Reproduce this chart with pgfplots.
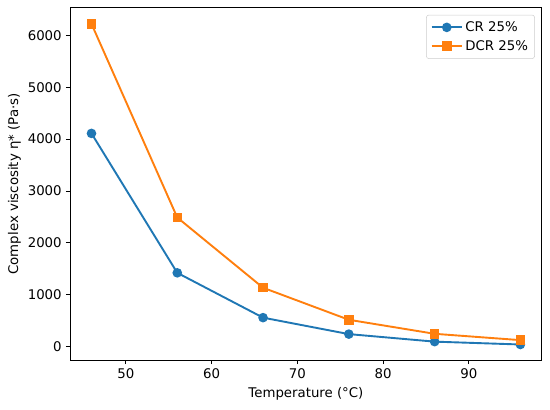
\documentclass[border=0pt]{standalone}
\usepackage{fontspec}
\setmainfont{DejaVu Sans}
\usepackage{pgfplots}
\pgfplotsset{compat=1.18}
\definecolor{mblue}{HTML}{1F77B4}
\definecolor{morange}{HTML}{FF7F0E}
\begin{document}
\begin{tikzpicture}
\useasboundingbox (0,0) rectangle (6.4in,4.76in);
\begin{axis}[
  at={(0.815in,0.57in)}, anchor=south west,
  scale only axis, width=5.49in, height=4.10in,
  xmin=43.5, xmax=98.5, ymin=-255, ymax=6530,
  xtick={50,60,70,80,90}, ytick={0,1000,2000,3000,4000,5000,6000},
  scaled y ticks=false,
  /pgf/number format/assume math mode=true,
  /pgf/number format/1000 sep={},
  tick align=outside, tick pos=left,
  major tick length=3.5pt,
  every tick/.style={black, line width=0.8pt},
  axis line style={line width=0.8pt},
  ticklabel style={font=\fontsize{11.2}{13}\selectfont},
  label style={font=\fontsize{11.2}{13}\selectfont},
  xlabel={Temperature (°C)},
  ylabel={Complex viscosity η* (Pa·s)},
  xlabel style={yshift=-1pt},
  ylabel style={yshift=-1pt},
  legend style={at={(0.985,0.98)}, anchor=north east, draw=black!20, rounded corners=2pt, font=\fontsize{11.2}{13}\selectfont, row sep=2pt, inner sep=3.5pt},
  legend image code/.code={\draw[mark repeat=2,mark phase=2] plot coordinates {(0cm,0cm) (0.45cm,0cm) (0.9cm,0cm)};},
  legend cell align=left,
]
\addplot[color=mblue, line width=1.6pt, mark=*, mark size=3.2pt, mark options={fill=mblue, draw=mblue}] coordinates {
(46,4110) (56,1425) (66,562) (76,245) (86,100) (96,45)};
\addlegendentry{CR 25\%}
\addplot[color=morange, line width=1.6pt, mark=square*, mark size=3.2pt, mark options={fill=morange, draw=morange}] coordinates {
(46,6220) (56,2490) (66,1138) (76,521) (86,251) (96,129)};
\addlegendentry{DCR 25\%}
\end{axis}
\end{tikzpicture}
\end{document}
